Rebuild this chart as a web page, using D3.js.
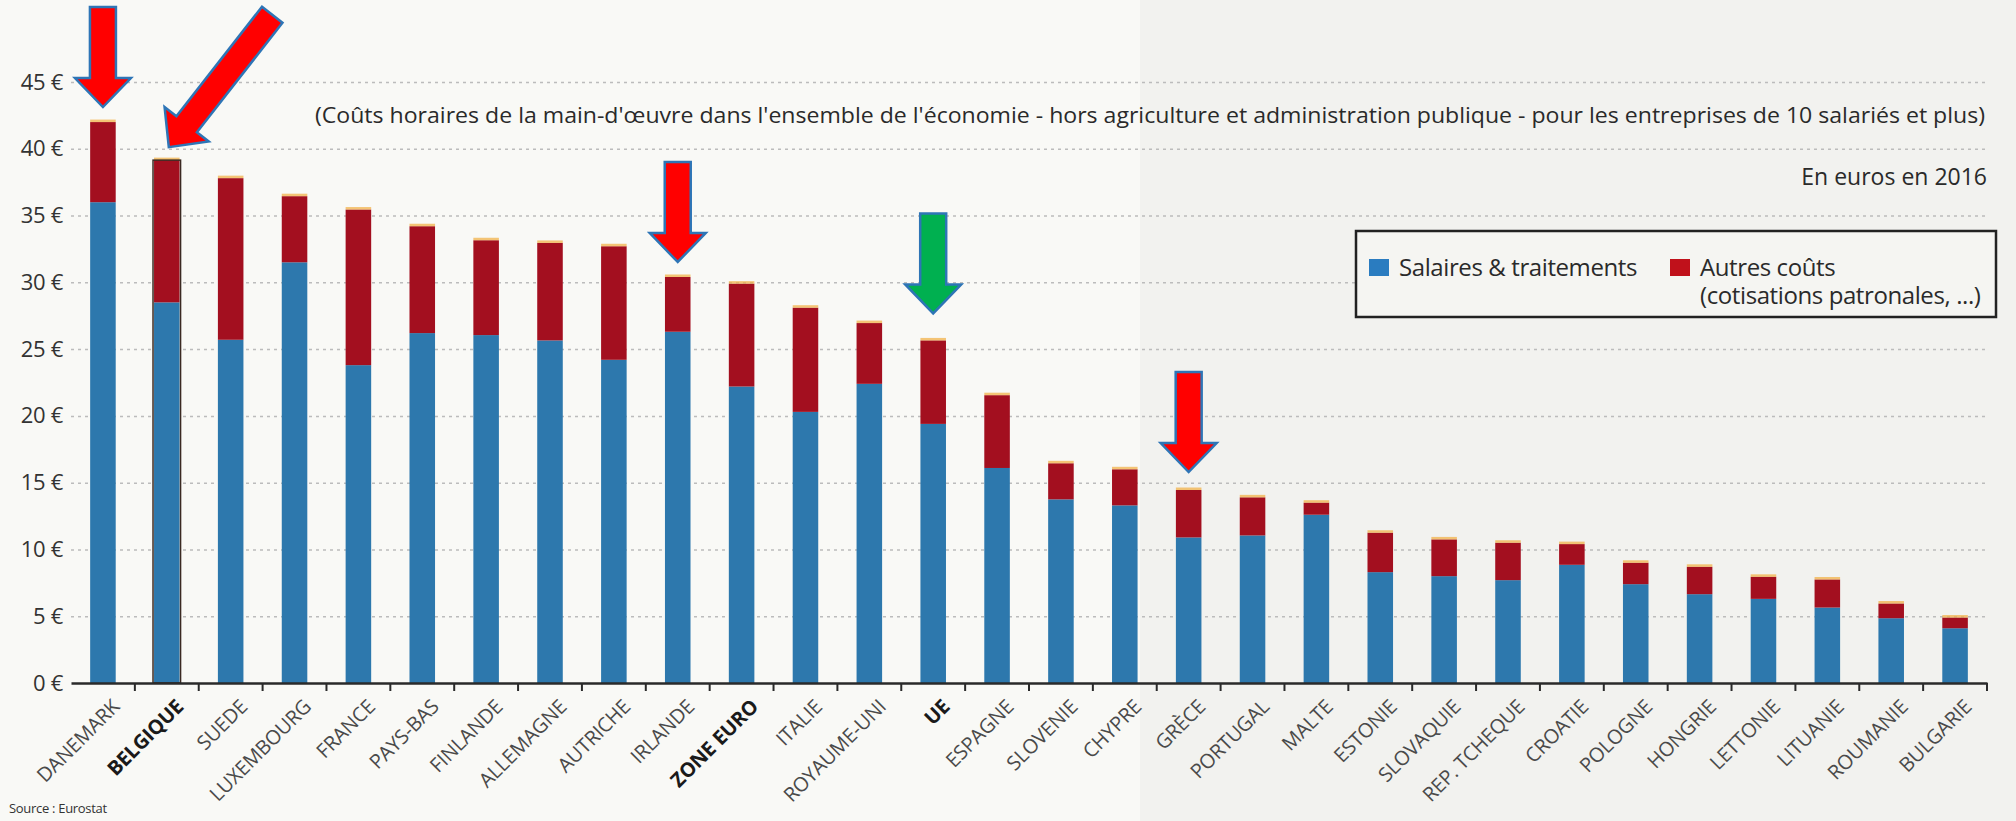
<!DOCTYPE html>
<html>
<head>
<meta charset="utf-8">
<script src="https://cdn.jsdelivr.net/npm/d3@7"></script>
<style>
  html, body { margin: 0; padding: 0; background: #f9f9f6; }
  svg { display: block; font-family: "Open Sans", sans-serif; }
</style>
</head>
<body>
<div id="chart"></div>
<script>
"use strict";

var countries = ["DANEMARK", "BELGIQUE", "SUEDE", "LUXEMBOURG", "FRANCE", "PAYS-BAS", "FINLANDE",
  "ALLEMAGNE", "AUTRICHE", "IRLANDE", "ZONE EURO", "ITALIE", "ROYAUME-UNI", "UE", "ESPAGNE",
  "SLOVENIE", "CHYPRE", "GRÈCE", "PORTUGAL", "MALTE", "ESTONIE", "SLOVAQUIE", "REP. TCHEQUE",
  "CROATIE", "POLOGNE", "HONGRIE", "LETTONIE", "LITUANIE", "ROUMANIE", "BULGARIE"];

/* euros par heure, 2016 */
var salaires = [36.0, 28.5, 25.7, 31.5, 23.8, 26.2, 26.05, 25.65, 24.2, 26.3, 22.2, 20.3, 22.4, 19.4, 16.1,
  13.75, 13.3, 10.9, 11.05, 12.6, 8.3, 8.0, 7.7, 8.85, 7.4, 6.65, 6.3, 5.65, 4.85, 4.1];
var autres = [6.0, 10.65, 12.1, 4.95, 11.65, 8.0, 7.1, 7.3, 8.5, 4.1, 7.7, 7.8, 4.55, 6.25, 5.45,
  2.7, 2.7, 3.55, 2.85, 0.9, 2.95, 2.75, 2.8, 1.55, 1.6, 2.05, 1.65, 2.1, 1.1, 0.8];

var yTicks = [0, 5, 10, 15, 20, 25, 30, 35, 40, 45];
var boldLabels = ["BELGIQUE", "ZONE EURO", "UE"];
var seriesNames = ["Salaires & traitements", "Autres coûts"];

// arrows pointing at some bars
var arrowTargets = ["DANEMARK", "BELGIQUE", "IRLANDE", "UE", "GRÈCE"];
var arrowColors = ["#ff0000", "#ff0000", "#ff0000", "#00b050", "#ff0000"];

var W = 2016, H = 821;
var margin = {top: 82, left: 71, right: 29, bottom: 138};
var width = W - margin.left - margin.right,
    height = H - margin.top - margin.bottom;

var rows = countries.map(function(c, i) {
  return {pays: c, salaires: salaires[i], autres: autres[i]};
});

var svg = d3.select("#chart").append("svg")
  .attr("width", W)
  .attr("height", H);

// paper shading, right half of the scan is a bit greyer
svg.append("rect").attr("x", 1140).attr("y", 0).attr("width", W - 1140).attr("height", H)
  .attr("fill", "#f2f2ef");

var g = svg.append("g")
  .attr("transform", "translate(" + margin.left + "," + margin.top + ")");

var x = d3.scaleBand().domain(countries).range([0, width]).paddingInner(0.6).paddingOuter(0.3);
var y = d3.scaleLinear().domain([0, 45]).range([height, 0]);

var blue = "#2d78ad", red = "#a30f1f";

// grid
var grid = g.append("g").attr("class", "grid")
  .call(d3.axisLeft(y).tickValues(yTicks.slice(1)).tickSize(-width).tickFormat(""));
grid.select(".domain").remove();
grid.selectAll("line").attr("stroke", "#bcbcbc").attr("stroke-width", 1.5).attr("stroke-dasharray", "3,4");

// y labels
var yAxis = g.append("g")
  .call(d3.axisLeft(y).tickValues(yTicks).tickSize(0).tickPadding(8)
    .tickFormat(function(d) { return d + " €"; }));
yAxis.select(".domain").remove();
yAxis.selectAll("text").attr("font-size", 22).attr("fill", "#333").attr("font-family", "Open Sans")
  .attr("letter-spacing", "-0.3");

// bars
var stack = d3.stack().keys(["salaires", "autres"]);
var layers = stack(rows);

g.selectAll(".layer").data(layers).enter().append("g")
  .attr("class", "layer")
  .attr("fill", function(d, i) { return i === 0 ? blue : red; })
  .selectAll("rect").data(function(d) { return d; }).enter().append("rect")
    .attr("x", function(d) { return x(d.data.pays); })
    .attr("y", function(d) { return y(d[1]); })
    .attr("width", x.bandwidth())
    .attr("height", function(d) { return y(d[0]) - y(d[1]); });

// thin yellowish rim on top of each bar (print misregistration)
g.selectAll(".rim").data(rows).enter().append("rect")
  .attr("x", function(d) { return x(d.pays); })
  .attr("y", function(d) { return y(d.salaires + d.autres) - 2.5; })
  .attr("width", x.bandwidth())
  .attr("height", 2.5)
  .attr("fill", "#f2b24a")
  .attr("opacity", 0.75);

// dark outline around the Belgian bar
var kb = countries.indexOf("BELGIQUE");
g.append("rect")
  .attr("x", x("BELGIQUE") - 1)
  .attr("y", y(salaires[kb] + autres[kb]))
  .attr("width", x.bandwidth() + 2)
  .attr("height", height - y(salaires[kb] + autres[kb]))
  .attr("fill", "none").attr("stroke", "#3b2a22").attr("stroke-width", 1.5);

// x axis
var xAxis = g.append("g")
  .attr("transform", "translate(0," + height + ")")
  .call(d3.axisBottom(x).tickSize(0).tickPadding(0));
xAxis.select(".domain").attr("stroke", "#2a2a2a").attr("stroke-width", 2.5);
xAxis.selectAll("text")
  .attr("y", 0).attr("dy", "0.35em")
  .attr("transform", "translate(13,20) rotate(-45)")
  .style("text-anchor", "end")
  .attr("font-size", 20)
  .attr("font-family", "Open Sans")
  .attr("letter-spacing", "-0.2")
  .attr("font-weight", function(d) { return boldLabels.indexOf(d) >= 0 ? 700 : 400; })
  .attr("fill", function(d) { return boldLabels.indexOf(d) >= 0 ? "#1a1a1a" : "#4a4a4a"; });

// tick marks between the bars
var gap = (x.step() - x.bandwidth()) / 2;
xAxis.selectAll(".sep").data(countries).enter().append("line")
  .attr("x1", function(d) { return x(d) + x.bandwidth() + gap; })
  .attr("x2", function(d) { return x(d) + x.bandwidth() + gap; })
  .attr("y1", 0).attr("y2", 8)
  .attr("stroke", "#2a2a2a").attr("stroke-width", 2);

// arrows
var arrowLen = [100, 168, 100, 100, 100];
var arrowAngle = [0, 38, 0, 0, 0];
var arrowGap = [15, 13, 15, 27, 18];
function arrowPath(L) {
  var sw = 13, hw = 28, hl = 29;
  return "M" + (-sw) + "," + (-L) + "L" + sw + "," + (-L) + "L" + sw + "," + (-hl) +
    "L" + hw + "," + (-hl) + "L0,0L" + (-hw) + "," + (-hl) + "L" + (-sw) + "," + (-hl) + "Z";
}
arrowTargets.forEach(function(c, i) {
  var k = countries.indexOf(c);
  var top = y(salaires[k] + autres[k]);
  var cx = x(c) + x.bandwidth() / 2 + (i === 1 ? 2 : 0);
  g.append("path")
    .attr("d", arrowPath(arrowLen[i]))
    .attr("transform", "translate(" + cx + "," + (top - arrowGap[i]) + ") rotate(" + arrowAngle[i] + ")")
    .attr("fill", arrowColors[i])
    .attr("stroke", "#2e75b6")
    .attr("stroke-width", 2.5)
    .attr("stroke-linejoin", "miter");
});

// texts
svg.append("text")
  .attr("x", 1985).attr("y", 123)
  .attr("text-anchor", "end")
  .attr("font-size", 22)
  .attr("fill", "#2a2a2a")
  .attr("textLength", 1670).attr("lengthAdjust", "spacingAndGlyphs")
  .text("(Coûts horaires de la main-d'œuvre dans l'ensemble de l'économie - hors agriculture et administration publique - pour les entreprises de 10 salariés et plus)");

svg.append("text")
  .attr("x", 1987).attr("y", 185)
  .attr("text-anchor", "end")
  .attr("font-size", 23)
  .attr("fill", "#2a2a2a")
  .text("En euros en 2016");

// legend
var leg = svg.append("g").attr("transform", "translate(1356,231)");
leg.append("rect").attr("width", 640).attr("height", 86)
  .attr("fill", "#f5f5f2").attr("stroke", "#222").attr("stroke-width", 2.5);
var legX = [13, 314];
seriesNames.forEach(function(s, i) {
  leg.append("rect").attr("x", legX[i]).attr("y", 28).attr("width", 20).attr("height", 17)
    .attr("fill", i === 0 ? "#2a7cc0" : "#c0111b");
  leg.append("text").attr("x", legX[i] + 30).attr("y", 45)
    .attr("font-size", 24).attr("letter-spacing", "-0.4").attr("fill", "#2a2a2a")
    .text(s);
});
leg.append("text").attr("x", legX[1] + 30).attr("y", 73)
  .attr("font-size", 24).attr("letter-spacing", "-0.4").attr("fill", "#2a2a2a")
  .text("(cotisations patronales, ...)");

svg.append("text")
  .attr("x", 9).attr("y", 813)
  .attr("font-size", 13).attr("letter-spacing", "-0.3").attr("fill", "#333")
  .text("Source : Eurostat");
</script>
</body>
</html>
